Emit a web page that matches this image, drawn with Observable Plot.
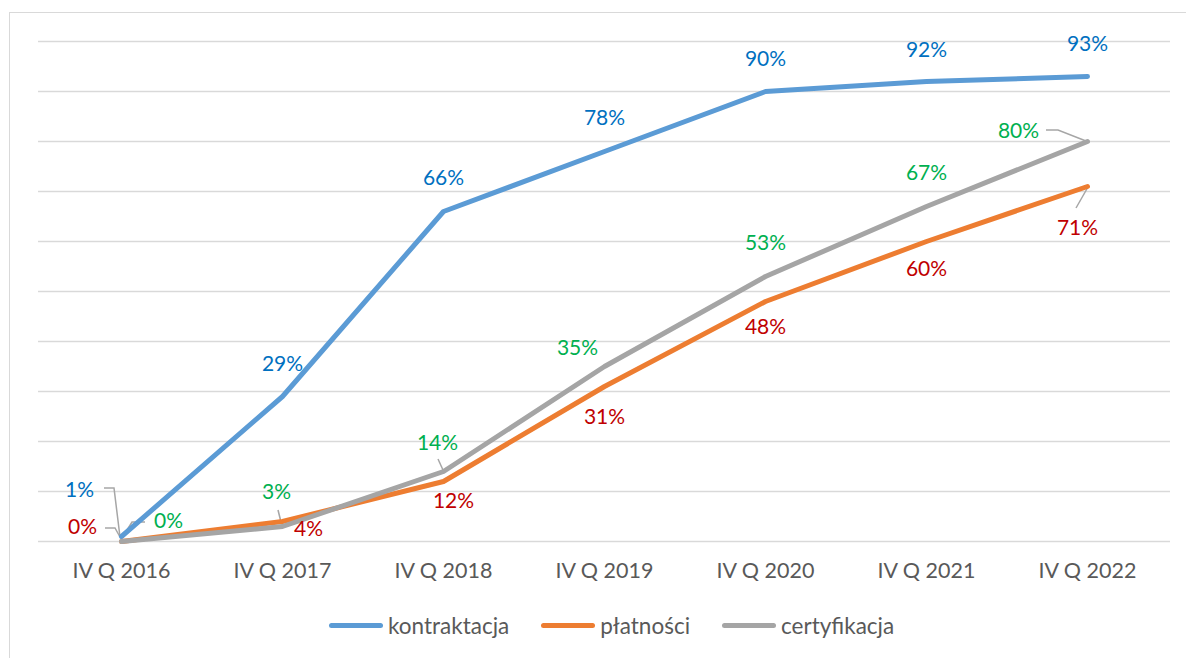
<!DOCTYPE html>
<html>
<head>
<meta charset="utf-8">
<script src="https://cdn.jsdelivr.net/npm/d3@7"></script>
<script src="https://cdn.jsdelivr.net/npm/@observablehq/plot@0.6"></script>
<style>
  html, body { margin: 0; padding: 0; background: #fff; }
  #wrap { position: relative; width: 1186px; height: 658px; overflow: hidden; font-family: Lato, "Open Sans", sans-serif; }
  #frame { position: absolute; left: 9px; top: 12px; width: 1300px; height: 800px; border: 1.5px solid #D9D9D9; box-sizing: border-box; }
  #chart { position: absolute; left: 0; top: 0; }
  #legend { position: absolute; left: 329px; top: 612px; display: flex; align-items: center; font-size: 22.5px; color: #595959; }
  .item { display: flex; align-items: center; margin-right: 32px; }
  .sw { width: 54px; height: 5px; border-radius: 3px; margin-right: 5px; }
</style>
</head>
<body>
<div id="wrap">
  <div id="frame"></div>
  <div id="chart"></div>
  <div id="legend"></div>
</div>
<script>
// ---- data ----
const categories = ["IV Q 2016", "IV Q 2017", "IV Q 2018", "IV Q 2019", "IV Q 2020", "IV Q 2021", "IV Q 2022"];
const kontraktacja = [1, 29, 66, 78, 90, 92, 93];
const platnosci = [0, 4, 12, 31, 48, 60, 71];
const certyfikacja = [0, 3, 14, 35, 53, 67, 80];
const seriesNames = ["kontraktacja", "płatności", "certyfikacja"];
const yTicks = [0, 10, 20, 30, 40, 50, 60, 70, 80, 90, 100];

// ---- styles / layout config ----
const lineColors = {"kontraktacja": "#5B9BD5", "płatności": "#ED7D31", "certyfikacja": "#A5A5A5"};
const labelColors = {"kontraktacja": "#0070C0", "płatności": "#C00000", "certyfikacja": "#00B050"};
const labelOffsets = {
  "kontraktacja": [[-42, -46], [0, -32], [0, -33], [0, -33], [0, -32], [0, -31], [0, -32]],
  "płatności":    [[-39, -14], [26, 8], [10, 20], [0, 31], [0, 26], [0, 28], [-10, 42]],
  "certyfikacja": [[47, -20], [-6, -34], [-6, -28], [-27, -18], [0, -33], [0, -33], [-69, -10]]
};
// leader lines: [series, category index, pixel offsets relative to the data point]
const leaders = [
  ["kontraktacja", 0, [[-17, -48], [-7, -48], [-1, 1]]],
  ["płatności", 0, [[-16, -13], [-6, -13], [-1, -4]]],
  ["certyfikacja", 0, [[24, -19], [11, -19], [1, -3]]],
  ["certyfikacja", 1, [[-4, -16], [-1, -4]]],
  ["certyfikacja", 2, [[-5, -12], [0, -1]]],
  ["certyfikacja", 6, [[-41, -11], [-29, -11], [-1, 0]]],
  ["płatności", 6, [[1, 1], [-11, 22]]]
];

const valuesBySeries = {"kontraktacja": kontraktacja, "płatności": platnosci, "certyfikacja": certyfikacja};
const rows = [];
for (const s of seriesNames) {
  valuesBySeries[s].forEach((v, i) => rows.push({series: s, cat: categories[i], value: v, i,
    dx: labelOffsets[s][i][0], dy: labelOffsets[s][i][1]}));
}

const FONT = "Lato, 'Open Sans', sans-serif";

const leaderMark = (index, scales) => {
  const g = d3.create("svg:g").attr("fill", "none").attr("stroke", "#A6A6A6").attr("stroke-width", 1.5);
  for (const [s, ci, pts] of leaders) {
    const px = scales.x(categories[ci]);
    const py = scales.y(valuesBySeries[s][ci]);
    g.append("polyline").attr("points", pts.map(([a, b]) => `${px + a},${py + b}`).join(" "));
  }
  return g.node();
};

const marks = [
  Plot.ruleY(yTicks, {y: d => d, stroke: "#D9D9D9", strokeWidth: 1.5}),
  Plot.axisX({tickSize: 0, tickPadding: 21, fontSize: 21.5, fill: "#595959", label: null}),
  leaderMark
];
for (const s of seriesNames) {
  marks.push(Plot.line(rows.filter(r => r.series === s), {
    x: "cat", y: "value", stroke: lineColors[s], strokeWidth: 5,
    strokeLinecap: "round", strokeLinejoin: "round"
  }));
}
for (const s of seriesNames) {
  const data = rows.filter(r => r.series === s);
  data.forEach(r => {
    marks.push(Plot.text([r], {
      x: "cat", y: "value", text: d => d.value + "%",
      dx: r.dx, dy: r.dy, fill: labelColors[s], fontSize: 21
    }));
  });
}

const chart = Plot.plot({
  width: 1186,
  height: 600,
  marginLeft: 38,
  marginRight: 16,
  marginTop: 41,
  marginBottom: 59,
  style: {fontFamily: FONT, background: "transparent", overflow: "visible"},
  x: {type: "point", domain: categories, padding: 0.5, axis: null},
  y: {domain: [0, 100], axis: null},
  marks
});
document.getElementById("chart").appendChild(chart);

const legend = document.getElementById("legend");
for (const s of seriesNames) {
  const it = document.createElement("div");
  it.className = "item";
  const sw = document.createElement("div");
  sw.className = "sw";
  sw.style.background = lineColors[s];
  const t = document.createElement("span");
  t.textContent = s;
  it.appendChild(sw); it.appendChild(t);
  legend.appendChild(it);
}
</script>
</body>
</html>
